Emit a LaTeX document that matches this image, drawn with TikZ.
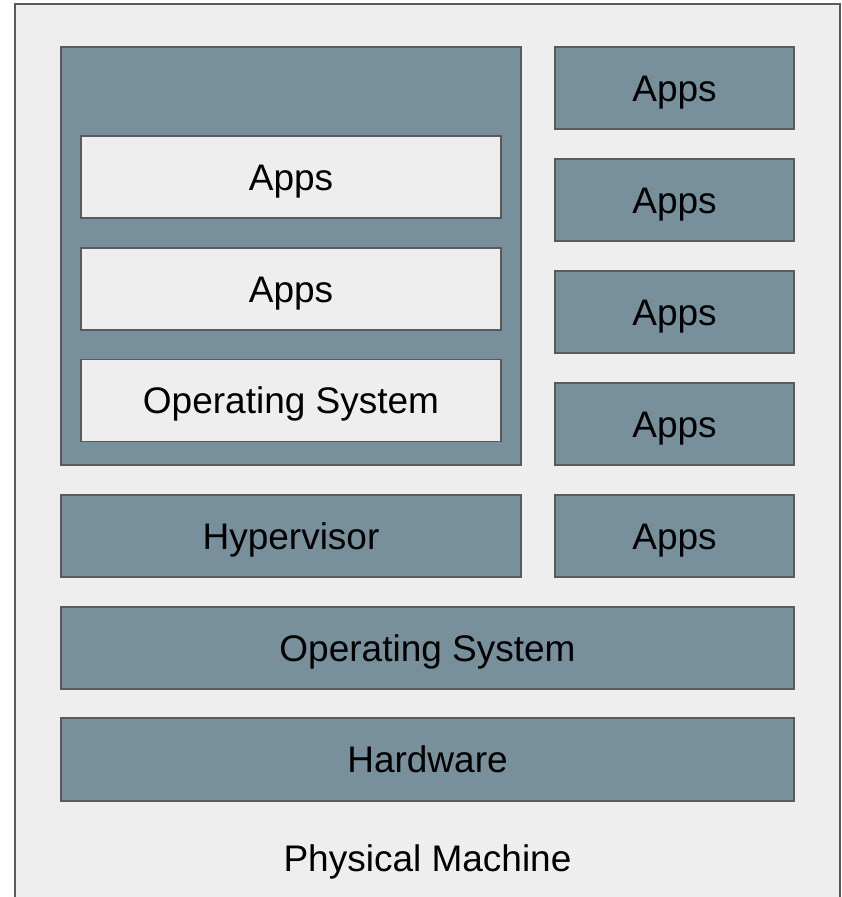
\documentclass[tikz,border=0pt]{standalone}
\usepackage{fontspec}
\setmainfont{Liberation Sans}
\definecolor{slate}{HTML}{78909C}
\definecolor{paper}{HTML}{EEEEEE}
\definecolor{edge}{HTML}{5A5A5A}
\tikzset{
  layer/.style={draw=edge, fill=slate, line width=1.4pt, inner sep=0pt,
    minimum height=82pt, text height=26pt, text depth=0pt,
    font=\fontsize{37}{44}\selectfont},
  guest/.style={layer, fill=paper, minimum width=420pt}
}
\def\rx{674.5}

\begin{document}
\begin{tikzpicture}[x=1pt, y=-1pt]
\useasboundingbox (0,0) rectangle (842,897);
\draw[draw=edge, fill=paper, line width=2pt] (15,4) rectangle (840,920);
\node[layer, minimum width=460pt, minimum height=418pt] (vm) at (291,256) {};
\node[guest] (gapps1) at (291,177) {Apps};
\node[guest] (gapps2) at (291,289) {Apps};
\node[guest] (gos) at (291,400.5) {Operating System};
\node[layer, minimum width=460pt] (hyper) at (291,536) {Hypervisor};
\node[layer, minimum width=239pt] (apps1) at (\rx,88) {Apps};
\node[layer, minimum width=239pt] (apps2) at (\rx,200) {Apps};
\node[layer, minimum width=239pt] (apps3) at (\rx,312) {Apps};
\node[layer, minimum width=239pt] (apps4) at (\rx,424) {Apps};
\node[layer, minimum width=239pt] (apps5) at (\rx,536) {Apps};
\node[layer, minimum width=733pt] (os) at (427.5,648) {Operating System};
\node[layer, minimum width=733pt, minimum height=83pt] (hw) at (427.5,759.5) {Hardware};
\node[font=\fontsize{37}{44}\selectfont, text height=26pt, text depth=0pt]
  (pm) at (427.5,858) {Physical Machine};
\end{tikzpicture}
\end{document}
